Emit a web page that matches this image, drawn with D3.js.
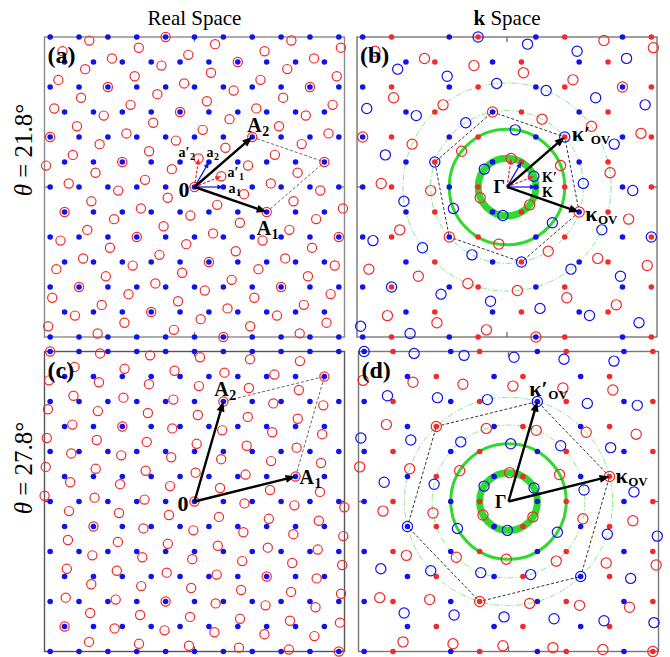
<!DOCTYPE html>
<html><head><meta charset="utf-8">
<script src="https://cdn.jsdelivr.net/npm/d3@7"></script>
<style>body{margin:0;background:#fff}svg{display:block}</style>
</head><body>
<svg id="fig" width="670" height="657"></svg>
<script>
// ---- data ----
const columnTitles = ["Real Space", "Space"];          // second title is preceded by bold "k"
const twistDeg = [21.8, 27.8];                         // rotation of layer 2 for each row
const rowLabels = ["21.8°", "27.8°"];
const panelTags = ["(a)", "(b)", "(c)", "(d)"];
// moiré supercell vectors, integer coefficients on (a1, a2)
const superA1 = [[3, -1], [3, 1]];
const superA2 = [[1, 2], [-1, 4]];
// overlap valleys in k space, in units of |K| (x, y)
const kappaOV  = [[2.5, -0.866], [3.5, 0.866]];
const kappaOVp = [[2.0, 1.732], [1.0, 3.464]];
// circles about Γ, radii in units of |K|
const ringRadii = [1, 2, 2.646, 3.606];
const ringKinds = ["thick", "solid", "dashed", "dashed"];
// half-width of each panel in lattice units
const halfSpan = 3 * Math.sqrt(3);

// ---- layout ----
const svg = d3.select("#fig");
const SIZE = 300;
const boxes = [
  {x0: 44.5, y0: 37},  {x0: 357, y0: 37},
  {x0: 44.5, y0: 351.5}, {x0: 358.5, y0: 351.5}
];
const BLUE = "#1212ee", RED = "#f22a2a", GREEN = "#30d830", LGREEN = "#8ee68e";
const SERIF = "'Liberation Serif','Times New Roman',serif";

function rot([x, y], deg) {
  const t = deg * Math.PI / 180, c = Math.cos(t), s = Math.sin(t);
  return [c * x - s * y, s * x + c * y];
}
const inBox = p => Math.abs(p[0]) <= halfSpan + 0.02 && Math.abs(p[1]) <= halfSpan + 0.02;
const latVec = ([m, n]) => [m + 0.5 * n, n * Math.sqrt(3) / 2];

function triLattice(deg) {
  const pts = [];
  for (let i = -14; i <= 14; i++) for (let j = -14; j <= 14; j++) {
    const p = rot(latVec([i, j]), deg);
    if (inBox(p)) pts.push(p);
  }
  return pts;
}
// honeycomb of valley points: s = +1 (K) or -1 (K')
function valleyLattice(deg, s) {
  const pts = [];
  for (let i = -14; i <= 14; i++) for (let j = -14; j <= 14; j++) {
    const p = rot([s + 1.5 * i, Math.sqrt(3) / 2 * i + Math.sqrt(3) * j], deg);
    if (inBox(p)) pts.push(p);
  }
  return pts;
}

function makeScales(b) {
  return {
    x: d3.scaleLinear().domain([-halfSpan, halfSpan]).range([b.x0, b.x0 + SIZE]),
    y: d3.scaleLinear().domain([-halfSpan, halfSpan]).range([b.y0 + SIZE, b.y0])
  };
}

function arrow(g, x1, y1, x2, y2, color, w, hl, hw, dash) {
  const dx = x2 - x1, dy = y2 - y1, L = Math.hypot(dx, dy);
  const ux = dx / L, uy = dy / L;
  const bx = x2 - ux * hl, by = y2 - uy * hl;
  g.append("line").attr("x1", x1).attr("y1", y1).attr("x2", bx + ux * 1).attr("y2", by + uy * 1)
    .attr("stroke", color).attr("stroke-width", w).attr("stroke-dasharray", dash || null);
  g.append("path")
    .attr("d", `M${x2},${y2}L${bx - uy * hw / 2},${by + ux * hw / 2}L${bx + uy * hw / 2},${by - ux * hw / 2}Z`)
    .attr("fill", color);
}

// bold serif label with optional prime and subscript
function label(g, x, y, main, sub, opts = {}) {
  const size = opts.size || 20;
  const t = g.append("text").attr("x", x).attr("y", y)
    .attr("font-family", SERIF).attr("font-weight", "bold")
    .attr("font-size", size).attr("text-anchor", opts.anchor || "start");
  t.append("tspan").text(main);
  if (opts.prime) t.append("tspan").text("′");
  if (sub) t.append("tspan").attr("dy", opts.subDy || 4).attr("dx", 0.5)
    .attr("font-size", opts.subSize || 13).text(sub);
  return t;
}

function frame(g, b, sx, sy, color) {
  g.append("rect").attr("x", b.x0).attr("y", b.y0).attr("width", SIZE).attr("height", SIZE)
    .attr("fill", "none").attr("stroke", color).attr("stroke-width", 1.4);
  const ox = sx(0), oy = sy(0), tl = 5;
  const tk = [[ox, b.y0, ox, b.y0 + tl], [ox, b.y0 + SIZE, ox, b.y0 + SIZE - tl],
              [b.x0, oy, b.x0 + tl, oy], [b.x0 + SIZE, oy, b.x0 + SIZE - tl, oy]];
  tk.forEach(t => g.append("line").attr("x1", t[0]).attr("y1", t[1]).attr("x2", t[2]).attr("y2", t[3])
    .attr("stroke", color).attr("stroke-width", 1.4));
}

// ---- real-space panels ----
function realPanel(row) {
  const b = boxes[row * 2], {x: sx, y: sy} = makeScales(b), th = twistDeg[row];
  const g = svg.append("g");
  frame(g, b, sx, sy, row === 0 ? "#8a8a8a" : "#555");

  const A1 = latVec(superA1[row]), A2 = latVec(superA2[row]);
  const C = [A1[0] + A2[0], A1[1] + A2[1]];
  g.append("path").attr("d", d3.line()([[sx(A2[0]), sy(A2[1])], [sx(C[0]), sy(C[1])], [sx(A1[0]), sy(A1[1])]]))
    .attr("fill", "none").attr("stroke", "#666").attr("stroke-width", 1).attr("stroke-dasharray", "3,2");

  g.append("g").selectAll("circle").data(triLattice(0)).join("circle")
    .attr("cx", d => sx(d[0])).attr("cy", d => sy(d[1])).attr("r", 2.8).attr("fill", BLUE);
  g.append("g").selectAll("circle").data(triLattice(th)).join("circle")
    .attr("cx", d => sx(d[0])).attr("cy", d => sy(d[1])).attr("r", 4.6)
    .attr("fill", "none").attr("stroke", RED).attr("stroke-width", 1.2);

  const ox = sx(0), oy = sy(0);
  if (row === 0) {
    const a1 = [1, 0], a2 = latVec([0, 1]);
    arrow(g, ox, oy, sx(a1[0]), sy(a1[1]), BLUE, 1.2, 6, 5);
    arrow(g, ox, oy, sx(a2[0]), sy(a2[1]), BLUE, 1.2, 6, 5);
    const b1 = rot(a1, th), b2 = rot(a2, th);
    arrow(g, ox, oy, sx(b1[0]), sy(b1[1]), RED, 1.2, 6, 5, "3,1.5");
    arrow(g, ox, oy, sx(b2[0]), sy(b2[1]), RED, 1.2, 6, 5, "3,1.5");
    label(g, ox - 16, oy - 30, "a", "2", {size: 14, prime: true, subSize: 10, subDy: 3});
    label(g, ox + 12, oy - 30, "a", "2", {size: 14, subSize: 10, subDy: 3});
    label(g, ox + 33, oy - 10, "a", "1", {size: 14, prime: true, subSize: 10, subDy: 3});
    label(g, ox + 34, oy + 6, "a", "1", {size: 14, subSize: 10, subDy: 3});
  }
  arrow(g, ox, oy, sx(A1[0]), sy(A1[1]), "#000", 2.4, 10, 8);
  arrow(g, ox, oy, sx(A2[0]), sy(A2[1]), "#000", 2.4, 10, 8);

  if (row === 0) {
    label(g, sx(A2[0]) - 5, sy(A2[1]) - 5, "A", "2", {size: 20, subSize: 14});
    label(g, sx(A1[0]) - 10, sy(A1[1]) + 23, "A", "1", {size: 20, subSize: 14});
    label(g, ox - 5, oy + 10, "0", null, {size: 22, anchor: "end"});
  } else {
    label(g, sx(A2[0]) - 9, sy(A2[1]) - 6, "A", "2", {size: 20, subSize: 14});
    label(g, sx(A1[0]) + 4, sy(A1[1]) + 7, "A", "1", {size: 20, subSize: 14});
    label(g, ox - 6, oy + 9, "0", null, {size: 22, anchor: "end"});
  }
  g.append("text").attr("x", b.x0 + 3).attr("y", b.y0 + 26).attr("font-family", SERIF)
    .attr("font-weight", "bold").attr("font-size", 24).text(panelTags[row * 2]);
}

// ---- k-space panels ----
function kPanel(row) {
  const b = boxes[row * 2 + 1], {x: sx, y: sy} = makeScales(b), th = twistDeg[row];
  const g = svg.append("g");
  frame(g, b, sx, sy, "#777");
  const ox = sx(0), oy = sy(0), unit = sx(1) - sx(0);

  ringRadii.forEach((r, i) => {
    const kind = ringKinds[i];
    g.append("circle").attr("cx", ox).attr("cy", oy).attr("r", r * unit).attr("fill", "none")
      .attr("stroke", kind === "dashed" ? LGREEN : GREEN)
      .attr("stroke-width", kind === "thick" ? 7 : kind === "solid" ? 3 : 1)
      .attr("stroke-dasharray", kind === "dashed" ? "6,2,1.5,2" : null);
  });

  const hex = d3.range(6).map(k => rot(kappaOV[row], 60 * k));
  g.append("path").attr("d", d3.line()(hex.map(p => [sx(p[0]), sy(p[1])])) + "Z")
    .attr("fill", "none").attr("stroke", "#333").attr("stroke-width", 1).attr("stroke-dasharray", "3,2");

  // layer 1: filled dots (K blue, K' red); layer 2: open circles
  [[1, BLUE], [-1, RED]].forEach(([s, col]) => {
    g.append("g").selectAll("circle").data(valleyLattice(0, s)).join("circle")
      .attr("cx", d => sx(d[0])).attr("cy", d => sy(d[1])).attr("r", 2.8).attr("fill", col);
  });
  [[1, BLUE], [-1, RED]].forEach(([s, col]) => {
    g.append("g").selectAll("circle").data(valleyLattice(th, s)).join("circle")
      .attr("cx", d => sx(d[0])).attr("cy", d => sy(d[1])).attr("r", 5.1)
      .attr("fill", "none").attr("stroke", col).attr("stroke-width", 1.2);
  });

  if (row === 0) {
    const k1 = [1, 0], k2 = rot([1, 0], 60);
    arrow(g, ox, oy, sx(k1[0]), sy(k1[1]), BLUE, 1.2, 6, 5);
    arrow(g, ox, oy, sx(k2[0]), sy(k2[1]), BLUE, 1.2, 6, 5);
    const r1 = rot(k1, th), r2 = rot(k2, th);
    arrow(g, ox, oy, sx(r1[0]), sy(r1[1]), RED, 1.2, 6, 5, "3,1.5");
    arrow(g, ox, oy, sx(r2[0]), sy(r2[1]), RED, 1.2, 6, 5, "3,1.5");
    label(g, ox + 35, oy - 5, "K", null, {size: 14, prime: true});
    label(g, ox + 35, oy + 10, "K", null, {size: 14});
  }
  const kp = kappaOV[row], kq = kappaOVp[row];
  arrow(g, ox, oy, sx(kp[0]), sy(kp[1]), "#000", 2.4, 10, 8);
  arrow(g, ox, oy, sx(kq[0]), sy(kq[1]), "#000", 2.4, 10, 8);

  label(g, ox - 2, oy + 6, "Γ", null, {size: 18, anchor: "end"});
  if (row === 0) {
    label(g, sx(kq[0]) + 7, sy(kq[1]) + 4, "κ", "OV", {size: 22, prime: true, subSize: 13, subDy: 3});
    label(g, sx(kp[0]) + 6, sy(kp[1]) + 9, "κ", "OV", {size: 22, subSize: 13, subDy: 3});
  } else {
    label(g, sx(kq[0]) - 8, sy(kq[1]) - 6, "κ", "OV", {size: 22, prime: true, subSize: 13, subDy: 3});
    label(g, sx(kp[0]) + 6, sy(kp[1]) + 6, "κ", "OV", {size: 22, subSize: 13, subDy: 3});
  }
  g.append("text").attr("x", b.x0 + 3).attr("y", b.y0 + 26).attr("font-family", SERIF)
    .attr("font-weight", "bold").attr("font-size", 24).text(panelTags[row * 2 + 1]);
}

realPanel(0); kPanel(0); realPanel(1); kPanel(1);

// ---- titles ----
svg.append("text").attr("x", 194.5).attr("y", 25).attr("text-anchor", "middle")
  .attr("font-family", SERIF).attr("font-size", 21).text(columnTitles[0]);
const kt = svg.append("text").attr("x", 507).attr("y", 25).attr("text-anchor", "middle")
  .attr("font-family", SERIF).attr("font-size", 21);
kt.append("tspan").attr("font-weight", "bold").text("k");
kt.append("tspan").text(" " + columnTitles[1]);

[150, 468].forEach((cy, i) => {
  const t = svg.append("text").attr("transform", `translate(32,${cy}) rotate(-90)`)
    .attr("text-anchor", "middle").attr("font-family", SERIF).attr("font-size", 25);
  t.append("tspan").attr("font-style", "italic").text("θ");
  t.append("tspan").text(" = " + rowLabels[i]);
});
</script>
</body></html>
